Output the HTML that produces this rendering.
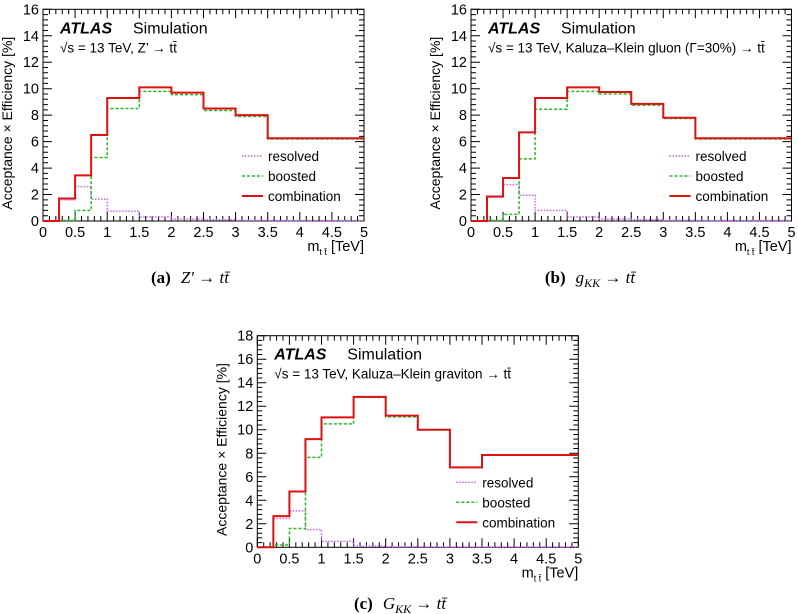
<!DOCTYPE html>
<html><head><meta charset="utf-8">
<style>
html,body{margin:0;padding:0;background:#fff;}
svg{display:block;font-family:"Liberation Sans",sans-serif;}
.cap{font-family:"Liberation Serif",serif;font-size:17px;}
</style></head>
<body>
<svg id="fig" width="798" height="614" viewBox="0 0 798 614" xmlns="http://www.w3.org/2000/svg"></svg>
<script>
const binEdges = [0,0.25,0.5,0.75,1,1.5,2,2.5,3,3.5,5];
const xTicks = [0,0.5,1,1.5,2,2.5,3,3.5,4,4.5,5];
const xTickLabels = ["0","0.5","1","1.5","2","2.5","3","3.5","4","4.5","5"];
const combA = [0,1.7,3.45,6.5,9.3,10.1,9.7,8.5,8.0,6.25];
const boostA = [0,0.05,0.8,4.8,8.5,9.8,9.55,8.35,7.9,6.2];
const resA = [0,1.6,2.6,1.65,0.75,0.3,0.15,0.1,0.05,0.03];
const combB = [0,1.85,3.25,6.7,9.3,10.1,9.75,8.85,7.8,6.25];
const boostB = [0,0.05,0.5,4.7,8.45,9.8,9.6,8.75,7.75,6.2];
const resB = [0,1.8,2.75,1.95,0.8,0.3,0.15,0.1,0.05,0.03];
const combC = [0,2.65,4.75,9.2,11.05,12.8,11.2,10.0,6.8,7.85];
const boostC = [0,0.2,1.6,7.65,10.5,12.75,11.1,10.0,6.8,7.85];
const resC = [0,2.45,3.1,1.5,0.5,0.1,0.05,0.02,0.01,0.01];
const yTicksAB = [0,2,4,6,8,10,12,14,16];
const yTicksC = [0,2,4,6,8,10,12,14,16,18];

const NS="http://www.w3.org/2000/svg";
const svg=document.getElementById('fig');
function mk(tag,attrs,parent){const e=document.createElementNS(NS,tag);for(const k in attrs)e.setAttribute(k,attrs[k]);(parent||svg).appendChild(e);return e;}

function panel(id,L,R,T,B,ymax,yTicks,comb,boost,res,line2,caption,capX,capY){
  const g=mk('g',{});
  
  
  const X=v=>L+(R-L)*v/5;
  const Y=v=>B-(B-T)*v/ymax;
  const fr=mk('rect',{x:L,y:T,width:R-L,height:B-T,fill:'none',stroke:'#000','stroke-width':1},g);
  
  
  let d='';
  for(let i=0;i<=50;i++){const v=i*0.1;const x=X(v);const len=(i%5===0)?9:5;d+=`M${x},${B}v${-len}M${x},${T}v${len}`;}
  for(let i=0;i<=ymax/0.4+0.001;i++){const v=i*0.4;const y=Y(v);const len=(Math.abs(v/2-Math.round(v/2))<1e-6)?9:5;d+=`M${L},${y}h${len}M${R},${y}h${-len}`;}
  const tk=mk('path',{d:d,stroke:'#000','stroke-width':1,fill:'none'},g);
  
  
  xTicks.forEach((v,i)=>{const t=mk('text',{x:X(v),y:B+16,'font-size':14.5,'text-anchor':'middle'},g);t.textContent=xTickLabels[i];
    
    });
  yTicks.forEach(v=>{const t=mk('text',{x:L-4,y:Y(v)+5,'font-size':14.5,'text-anchor':'end'},g);t.textContent=String(v);
    
    });
  const yc=(T+B)/2+8;
  const yt=mk('text',{x:L-31,y:yc,'font-size':14,'text-anchor':'middle',transform:`rotate(-90 ${L-31} ${yc})`},g);
  yt.textContent='Acceptance × Efficiency [%]';
  
  
  const xt=mk('text',{x:R,y:B+30,'font-size':14.5,'text-anchor':'end'},g);
  xt.innerHTML='m<tspan font-size="9" dy="4">t t̄</tspan><tspan dy="-4"> [TeV]</tspan>';
  
  
  const at=mk('text',{x:L+17,y:T+24,'font-size':16,'font-weight':'bold','font-style':'italic'},g);
  at.textContent='ATLAS';
  
  
  const sm=mk('text',{x:L+90,y:T+24,'font-size':16},g);
  sm.textContent='Simulation';
  
  
  const l2=mk('text',{x:L+17,y:T+43,'font-size':13.5},g);
  l2.textContent=line2;
  
  
  function hist(vals,color,dash,w,name){
    let p=`M${X(binEdges[0])},${Y(vals[0])}`;
    for(let i=0;i<vals.length;i++){p+=`V${Y(vals[i])}H${X(binEdges[i+1])}`;}
    const e=mk('path',{d:p,fill:'none',stroke:color,'stroke-width':w,'stroke-dasharray':dash},g);
    
    
  }
  hist(res,'#cc66ee','1.5,1.5',1.5,'resolved-histogram');
  hist(boost,'#22bb22','3,2',1.5,'boosted-histogram');
  hist(comb,'#dd1111','none',2,'combination-histogram');
  const lx=R-122;
  const rows=[['resolved','#cc66ee','1.5,1.5',1.5,65],['boosted','#22bb22','3,2',1.5,45],['combination','#dd1111','none',2,25]];
  rows.forEach(r=>{const y=B-r[4];
    const ln=mk('line',{x1:lx,x2:lx+21,y1:y,y2:y,stroke:r[1],'stroke-width':r[3],'stroke-dasharray':r[2]},g);
    
    
    const t=mk('text',{x:lx+26,y:y+5,'font-size':13.5},g);t.textContent=r[0];
    
    });
  const c=mk('text',{x:capX,y:capY,'text-anchor':'middle',class:'cap'},g);
  c.innerHTML=caption;
  
  
}
panel('a',43,364,9.3,221,16,yTicksAB,combA,boostA,resA,'√s = 13 TeV, Z’ → tt̄','<tspan font-weight="bold">(a)</tspan><tspan font-style="italic" dx="10">Z′ → tt̄</tspan>',190,283);
panel('b',471,791.5,9.3,221,16,yTicksAB,combB,boostB,resB,'√s = 13 TeV, Kaluza–Klein gluon (Γ=30%) → tt̄','<tspan font-weight="bold">(b)</tspan><tspan font-style="italic" dx="10">g</tspan><tspan font-style="italic" font-size="12" dy="4">KK</tspan><tspan font-style="italic" dy="-4"> → tt̄</tspan>',590,283);
panel('c',257.3,578.3,335.7,547.3,18,yTicksC,combC,boostC,resC,'√s = 13 TeV, Kaluza–Klein graviton → tt̄','<tspan font-weight="bold">(c)</tspan><tspan font-style="italic" dx="10">G</tspan><tspan font-style="italic" font-size="12" dy="4">KK</tspan><tspan font-style="italic" dy="-4"> → tt̄</tspan>',400,609);
</script>
</body></html>
